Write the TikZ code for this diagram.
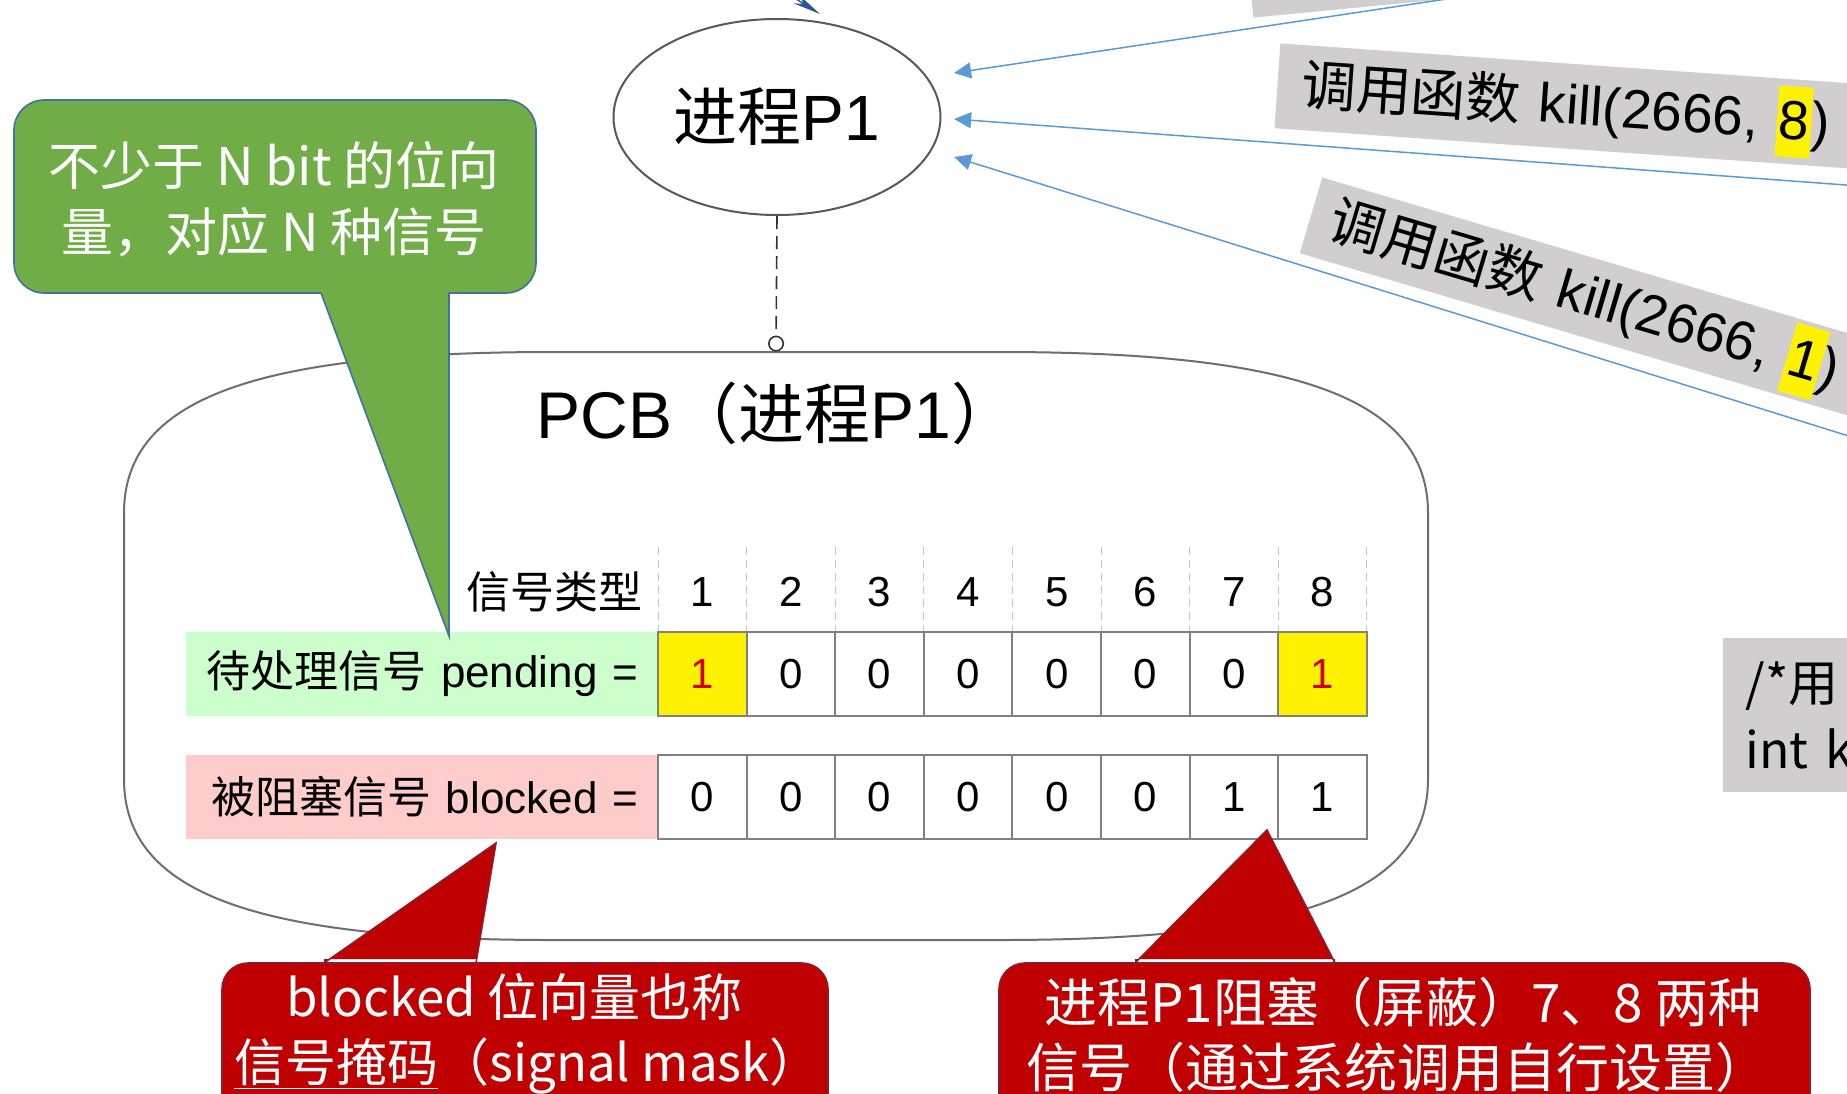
\documentclass[tikz,border=0pt]{standalone}
\usepackage{fontspec}
\setmainfont{Noto Sans CJK SC}
\newfontfamily\hel{Liberation Sans}
\usetikzlibrary{shapes.geometric,arrows.meta}
\definecolor{sigblue}{HTML}{5B9BD5}
\definecolor{boxgray}{HTML}{D0CECF}
\definecolor{cellgray}{HTML}{808080}
\definecolor{pendfill}{HTML}{CCFFCC}
\definecolor{blockfill}{HTML}{FFCCCC}
\definecolor{calgreen}{HTML}{70AD47}
\definecolor{calgreenline}{HTML}{41719C}
\definecolor{calred}{HTML}{C00000}
\definecolor{calredline}{HTML}{8E1B2B}
\definecolor{pcbline}{HTML}{6E6E6E}
\definecolor{ellline}{HTML}{595959}
\definecolor{topblue}{HTML}{2F5597}
\definecolor{bitred}{HTML}{D00000}
\newcommand\hlnum[1]{{\setlength\fboxsep{0pt}\colorbox{yellow}{\rule[-9pt]{0pt}{35.5pt}\kern1pt#1\kern1pt}}}
\tikzset{
  sig/.style={draw=sigblue, line width=0.75pt, -{Triangle[length=8.5pt,width=8pt]}},
  graybox/.style={fill=boxgray, inner sep=0pt, align=left},
  cell/.style={draw=cellgray, line width=1pt, minimum width=44.3pt, minimum height=42pt, inner sep=0pt, font=\hel\fontsize{21}{25}\selectfont},
  hdrnum/.style={inner sep=0pt, font=\hel\fontsize{21}{25}\selectfont},
  hdrdash/.style={draw=gray!45, line width=0.5pt, dash pattern=on 4pt off 2.5pt},
  lab/.style={minimum width=236pt, minimum height=42pt, text width=216pt, inner xsep=10pt, inner ysep=0pt, align=right, font=\fontsize{22}{26}\selectfont},
  greenbox/.style={draw=calgreenline, fill=calgreen, line width=0.8pt, rounded corners=15pt, inner sep=0pt},
  redbox/.style={draw=calredline, fill=calred, line width=0.8pt, rounded corners=13pt, inner sep=0pt},
  calltext/.style={text=white, align=left, inner sep=0pt, anchor=west, font=\fontsize{26}{32.5}\selectfont}
}
\begin{document}
\begin{tikzpicture}[x=0.5pt,y=-0.5pt]
\useasboundingbox (0,0) rectangle (1847,1093);
\clip (0,0) rectangle (1847,1093);
\fill[white] (0,0) rectangle (1847,1093);

% gray boxes on the right
\node[graybox, rotate=5.5, anchor=south west, minimum width=400pt, minimum height=42.5pt] (ka) at (1253,18) {};
\node[graybox, rotate=-4, anchor=north west, text width=330pt, minimum height=42.5pt, inner xsep=12pt, font=\fontsize{27.5}{33}\selectfont] (kb) at (1280,43) {调用函数 {\hel kill(2666, \hlnum{8})}};
\node[graybox, rotate=-16.5, anchor=north west, text width=330pt, minimum height=39.5pt, inner xsep=10pt, font=\fontsize{27.5}{33}\selectfont] (kc) at (1322,177) {调用函数 {\hel kill(2666, \hlnum{1})}};
\node[graybox, anchor=north west, text width=150pt, minimum height=77pt, inner xsep=11pt, font=\fontsize{25}{33.5}\selectfont] (kd) at (1723,638) {/*用\\int k};

% process ellipse
\node[ellipse, draw=ellline, line width=1pt, fill=white, minimum width=163.5pt, minimum height=98pt, inner sep=0pt, font=\fontsize{32}{36}\selectfont] (p1) at (777,117) {进程{\hel P1}};

% arrows
\coordinate (s0) at (766,-20);
\coordinate (s1) at (1573,-20);
\coordinate (s2) at (1900,189);
\coordinate (s3) at (1900,452);
\draw[sig] (s1) -- ([shift={(6.3pt,22pt)}]p1.east);
\draw[sig] (s2) -- ([shift={(6.3pt,-1pt)}]p1.east);
\draw[sig] (s3) -- ([shift={(6.3pt,-20pt)}]p1.east);
\draw[topblue, line width=0.7pt, -{Stealth[length=14pt,width=5pt]}] (s0) -- ([shift={(21.5pt,2pt)}]p1.north);

% PCB
\node[minimum width=652pt, minimum height=294pt, inner sep=0pt] (pcb) at (776,646) {};
\draw[pcbline, line width=1pt] (552,352) -- (1000,352) .. controls (1300,352) and (1428,400) .. (1428,513)
  -- (1428,779) .. controls (1428,892) and (1300,940) .. (1000,940)
  -- (552,940) .. controls (252,940) and (124,892) .. (124,779)
  -- (124,513) .. controls (124,400) and (252,352) .. (552,352) -- cycle;
\node[inner sep=0pt, font=\fontsize{33}{38}\selectfont] (title) at (777,413) {{\hel PCB}（进程{\hel P1}）};
\draw[draw=black!80, line width=0.8pt, dash pattern=on 6.5pt off 3.5pt, -{Circle[open,length=8pt,width=8pt]}] (p1.south) -- (pcb.north);

% table header
\foreach \j in {0,...,8} \draw[hdrdash] ({658+88.6*\j},547) -- ({658+88.6*\j},632);
\foreach \k in {1,...,8} \node[hdrnum] (h\k) at ({658+88.6*(\k-0.5)},592) {\k};
\node[inner sep=0pt, anchor=east, font=\fontsize{22}{26}\selectfont] (hdrlab) at (643,592) {信号类型};

% labels
\node[lab, fill=pendfill] (pendlab) at (422,674) {待处理信号 {\hel pending =}};
\node[lab, fill=blockfill] (blocklab) at (422,797) {被阻塞信号 {\hel blocked =}};

% cells
\foreach \k/\v/\f/\c in {1/1/yellow/bitred,2/0/white/black,3/0/white/black,4/0/white/black,5/0/white/black,6/0/white/black,7/0/white/black,8/1/yellow/bitred}
  \node[cell, fill=\f, text=\c] (pd\k) at ({658+88.6*(\k-0.5)},674) {\v};
\foreach \k/\v in {1/0,2/0,3/0,4/0,5/0,6/0,7/1,8/1}
  \node[cell, fill=white] (bl\k) at ({658+88.6*(\k-0.5)},797) {\v};

% green callout
\node[greenbox, minimum width=261pt, minimum height=96.5pt] (gbox) at (275,196.5) {};
\fill[calgreen] (321,289) -- (321,293) -- (449,636) -- (449,289) -- cycle;
\draw[calgreenline, line width=0.8pt] (321,293) -- (449,636) -- (449,293);
\node[calltext, align=center, anchor=center, font=\fontsize{26}{33}\selectfont] (gtxt) at (274,199) {不少于 N bit 的位向\\量，对应 N 种信号};

% red callouts
\node[redbox, minimum width=303pt, minimum height=88.5pt] (rbl) at (525,1051.5) {};
\fill[calred] (324,959) -- (324,963) -- (496,843) -- (476,963) -- (476,959) -- cycle;
\draw[calredline, line width=0.8pt] (324,963) -- (496,843) -- (476,963);
\node[calltext, font=\fontsize{25.5}{32.5}\selectfont] (rtl) at (234,1034) {\hspace*{26pt}blocked 位向量也称\\\underline{信号掩码}（signal mask）};

\node[redbox, minimum width=405.5pt, minimum height=88.5pt] (rbr) at (1404.5,1051.5) {};
\fill[calred] (1135,959) -- (1135,963) -- (1267,830) -- (1335,963) -- (1335,959) -- cycle;
\draw[calredline, line width=0.8pt] (1135,963) -- (1267,830) -- (1335,963);
\node[calltext, font=\fontsize{26.5}{32.5}\selectfont] (rtr) at (1026,1035) {\hspace*{9pt}进程P1阻塞（屏蔽）7、8 两种\\信号（通过系统调用自行设置）};
\end{tikzpicture}
\end{document}
